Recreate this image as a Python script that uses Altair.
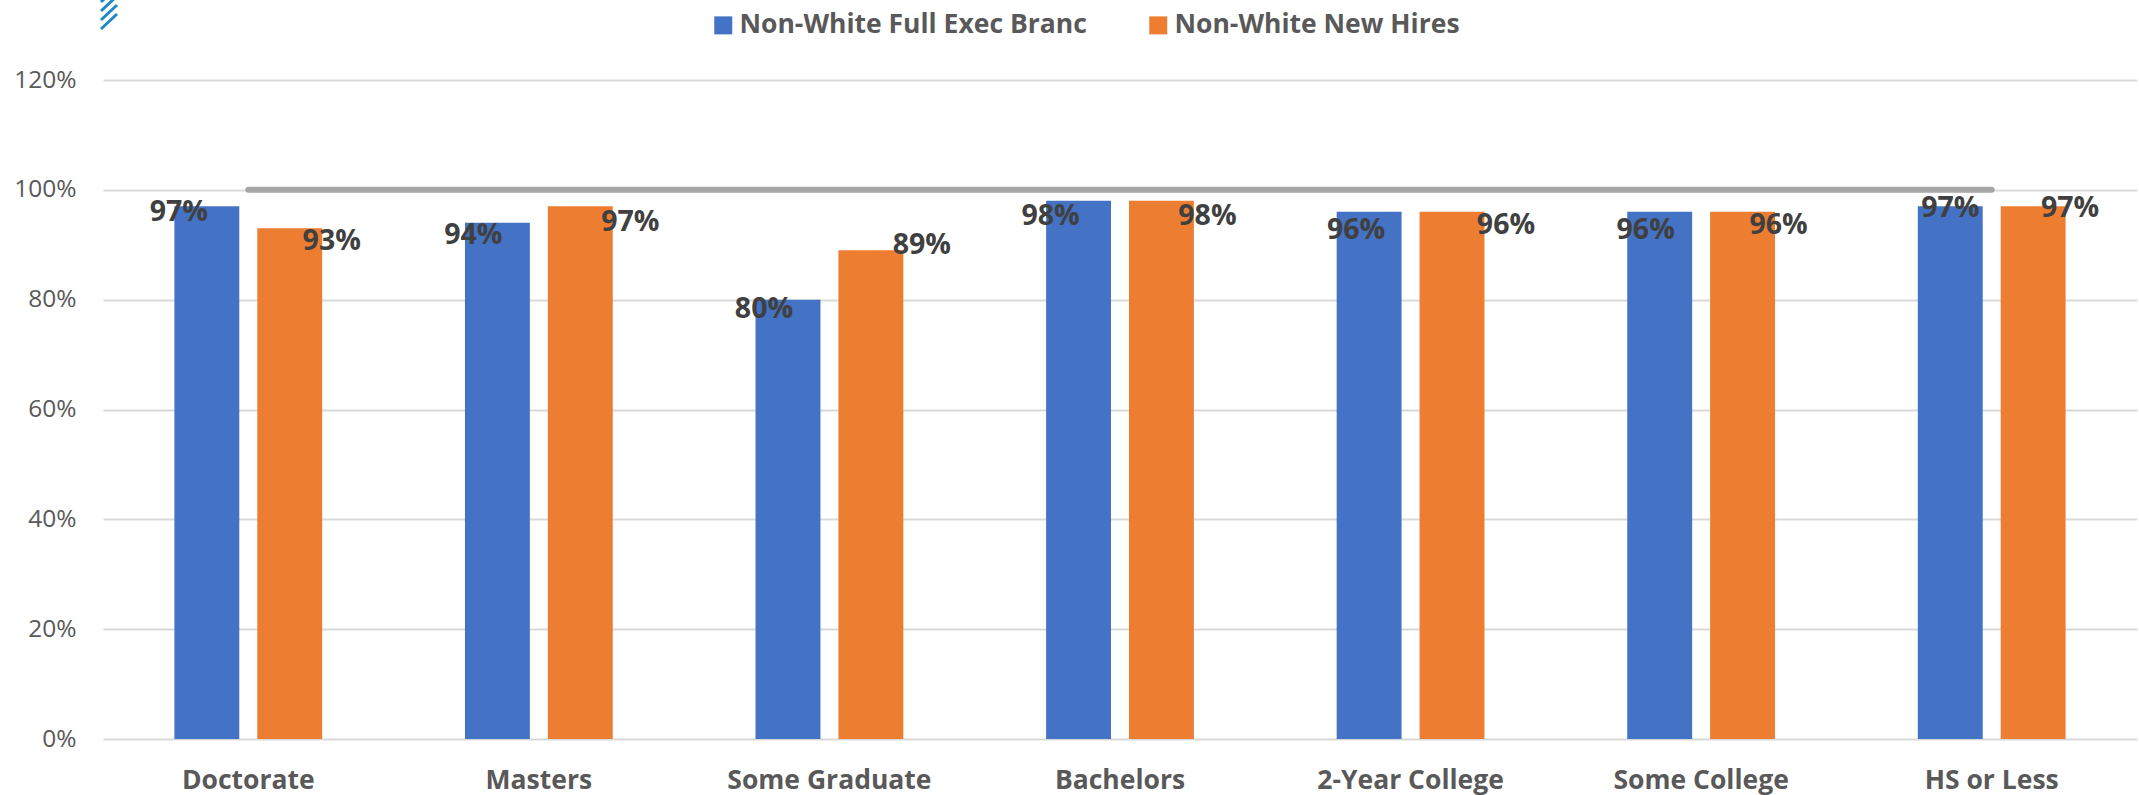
import altair as alt
import pandas as pd

categories = ["Doctorate", "Masters", "Some Graduate", "Bachelors", "2-Year College", "Some College", "HS or Less"]
series_names = ["Non-White Full Exec Branc", "Non-White New Hires"]
full_exec = [0.97, 0.94, 0.80, 0.98, 0.96, 0.96, 0.97]
new_hires = [0.93, 0.97, 0.89, 0.98, 0.96, 0.96, 0.97]
parity = [1.0] * 7

FONT = "Open Sans"
BLUE, ORANGE = "#4472C4", "#ED7D31"

rows = [
    {"category": c, "series": s, "share": v}
    for s, values in zip(series_names, [full_exec, new_hires])
    for c, v in zip(categories, values)
]
bars_df = pd.DataFrame(rows)
line_df = pd.DataFrame({"category": categories, "share": parity})

x_enc = alt.X(
    "category:N",
    scale=alt.Scale(domain=categories, paddingInner=0.4914, paddingOuter=0.2457),
    axis=alt.Axis(
        title=None, labelAngle=0, domain=False, ticks=False, labelPadding=28,
        labelFont=FONT, labelFontSize=26.5, labelFontWeight="bold", labelColor="#595959",
        labelLimit=400,
    ),
)
y_enc = alt.Y(
    "share:Q",
    scale=alt.Scale(domain=[0, 1.2], nice=False),
    axis=alt.Axis(
        title=None, values=[0, 0.2, 0.4, 0.6, 0.8, 1.0, 1.2], format=".0%",
        domain=False, ticks=False, labelPadding=27,
        labelFont=FONT, labelFontSize=24.5, labelColor="#595959",
        grid=True, gridColor="#D9D9D9", gridWidth=2,
    ),
)
offset_enc = alt.XOffset("series:N", scale=alt.Scale(domain=series_names, paddingInner=0.217))

bars = alt.Chart(bars_df).mark_bar().encode(
    x=x_enc,
    y=y_enc,
    xOffset=offset_enc,
    color=alt.Color(
        "series:N",
        scale=alt.Scale(domain=series_names, range=[BLUE, ORANGE]),
        legend=alt.Legend(
            title=None, orient="none", direction="horizontal", columns=2,
            legendX=607, legendY=-68, symbolType="square", symbolSize=324,
            symbolStrokeWidth=0, symbolOpacity=1, labelOffset=3, columnPadding=58,
            labelFont=FONT, labelFontSize=26.5, labelFontWeight="bold", labelColor="#595959",
            labelLimit=500,
        ),
    ),
)

reference_line = alt.Chart(line_df).mark_line(
    color="#A5A5A5", strokeWidth=6, strokeCap="round"
).encode(x=alt.X("category:N", scale=alt.Scale(domain=categories)), y="share:Q")

# The data labels sit where they were hand-placed around each bar: (dx, dy) from the bar's top centre.
label_nudges = [
    (-28, 6), (42, 13), (-24, 12), (50, 16), (-24, 9), (51, -5), (-28, 15),
    (46, 15), (-13, 18), (54, 13), (-14, 18), (36, 13), (0, 2), (37, 2),
]
ordered = [
    {"category": c, "series": s, "share": v}
    for i, c in enumerate(categories)
    for s, v in zip(series_names, [full_exec[i], new_hires[i]])
]
labels = [
    alt.Chart(pd.DataFrame([row])).mark_text(
        font=FONT, fontSize=28.5, fontWeight="bold", color="#404040",
        dx=dx, dy=dy, baseline="middle", align="center",
    ).encode(
        x=alt.X("category:N", scale=alt.Scale(domain=categories)),
        y="share:Q",
        xOffset=alt.XOffset("series:N", scale=alt.Scale(domain=series_names)),
        text=alt.Text("share:Q", format=".0%"),
    )
    for row, (dx, dy) in zip(ordered, label_nudges)
]

# Corner of the logo showing at the top left of the slide
logo_strokes = [(-78, -93), (-69, -84), (-60, -75), (-51, -66)]
logo = [
    alt.Chart(pd.DataFrame({"k": [0]})).mark_rule(color="#1F88C7", strokeWidth=3).encode(
        x=alt.value(-2), x2=alt.value(14), y=alt.value(y0), y2=alt.value(y1)
    )
    for y0, y1 in logo_strokes
]

chart = alt.layer(bars, reference_line, *labels, *logo).properties(
    width=2034,
    height=659,
    autosize=alt.AutoSizeParams(type="none"),
    padding={"left": 103, "top": 80, "right": 2, "bottom": 56},
    background="white",
).configure_view(stroke=None)

chart.save("out.html", embed_options={"renderer": "svg", "actions": False})
